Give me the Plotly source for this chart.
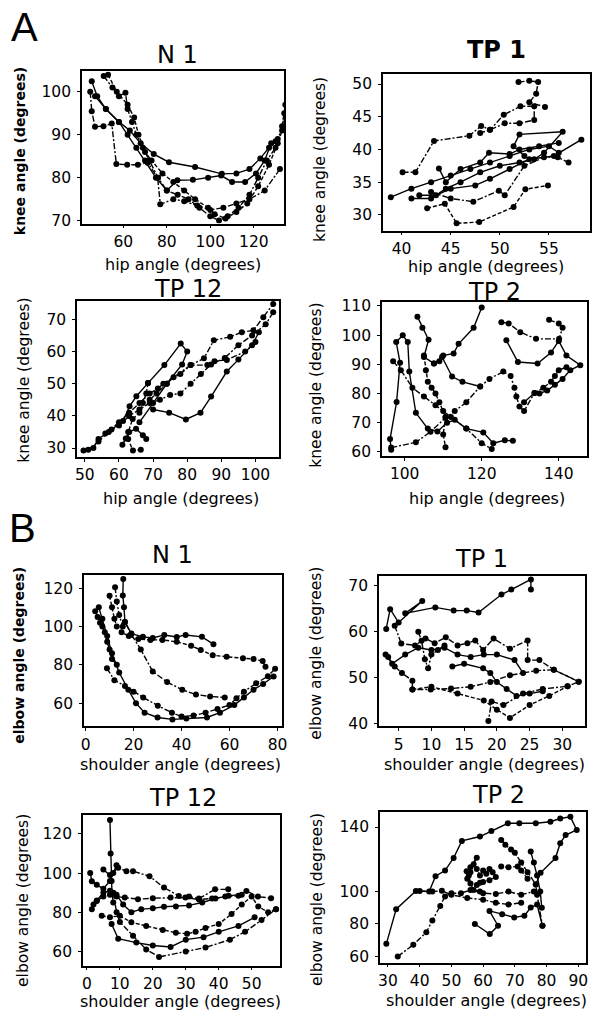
import plotly.graph_objects as go

W, H = 610, 1020
FONT = "DejaVu Sans"

# ---- data: each panel is a list of cycles, each cycle a list of (x, y) angles in degrees ----
# panel A: hip angle (x) vs knee angle (y)
A_N1 = [
    [(45.5, 102.5), (48, 99), (52, 96), (58, 93), (63, 91), (68, 88), (74, 85.5), (81, 83.6),
     (93, 82.5), (105.3, 80.9), (112, 81), (118, 82), (123, 84.5), (127, 87), (130, 88.5)],
    [(51, 103.7), (55, 101), (58, 99), (61, 99.8), (62, 96), (64, 93), (66, 90), (69, 87), (72, 84),
     (76, 80), (80, 77), (85, 76), (90, 75), (95, 73), (100, 71), (104, 70), (108, 71), (113, 73),
     (118, 76), (122, 80), (126, 84), (130, 87), (133, 92), (134.5, 97)],
    [(44.8, 100), (45.5, 95.5), (47, 91.9), (50.9, 92), (54.7, 92.6), (56.8, 83.2), (61.8, 83),
     (66.7, 83), (71.2, 83.5), (75.8, 80), (77, 73.8), (83, 75), (88, 74.5), (94, 73.5), (100, 72.5),
     (106, 73), (112, 74), (118, 75), (125, 77), (132, 82)],
    [(47, 99), (52, 96), (58, 93), (62, 90), (66, 87), (70, 84), (75, 80), (80, 77), (84.9, 79.4),
     (92, 79.5), (99, 80), (105, 80.5), (110, 79), (116, 79), (121, 81), (125, 84), (128, 88), (131, 89)],
    [(53, 104), (57, 100), (62, 97), (65, 94), (67, 90), (70, 86), (73, 84), (78, 81), (83, 79),
     (88, 77), (93, 75), (99, 73), (102, 71.5), (107, 70.5), (112, 72), (117, 74), (122, 78),
     (127, 83), (131, 88), (133, 91), (134, 95)],
]
A_TP1 = [
    [(38.9, 32.7), (41, 34), (43, 35), (45, 36), (47, 37), (49, 38), (51, 39), (53, 40), (55, 40.5), (56, 39.5)],
    [(40.1, 36.5), (41.4, 36.5), (43.3, 41.3), (46.9, 42.1), (48.1, 43.6), (49, 43), (50.4, 45.3),
     (52.1, 46.6), (53.5, 46.6), (53.5, 44.5), (52, 44), (50.5, 44), (49, 43), (48, 42.5)],
    [(51.9, 50.3), (53, 50.5), (53.9, 50.3), (53.7, 48.5), (53, 47.2), (54.6, 46.5)],
    [(41, 32.5), (43, 32.5), (44.5, 34), (46, 35), (48, 36.5), (50, 37.5), (52, 38), (53.5, 38.5),
     (54.5, 39.5), (56.4, 42.7), (52, 42.3), (51.4, 40.5), (52.5, 39)],
    [(42.6, 31), (44.4, 31.7), (45.6, 28.7), (47.9, 28.9), (51.4, 31.2), (52.6, 33.9), (54.9, 34.5)],
    [(41.8, 33), (43.5, 33), (45, 34), (47.5, 34.5), (49, 35.5), (51, 37), (53, 38.5), (55.5, 39), (58.3, 41.5)],
    [(43, 33.5), (45, 32.5), (47.3, 32), (49.9, 33.7), (50.5, 33), (52.5, 37.5), (54.5, 38.8), (55.9, 38.8), (57, 38)],
    [(43.8, 37.1), (44.5, 35), (46, 37), (48, 38), (48.9, 39.5), (51, 39.3), (52, 40), (54, 40.5), (56, 41)],
]
A_TP12 = [
    [(49.6, 29.2), (52.5, 30), (54, 32.8), (57.8, 35.8), (61.2, 38.4), (63.1, 43), (65.1, 46.1),
     (68.5, 50.2), (73.3, 55.8), (78.1, 62.5), (80, 60), (78.5, 56), (74, 50), (70, 44), (66, 38)],
    [(51, 29.5), (54, 32), (57, 35), (60, 37), (63, 40), (66, 42), (69, 44), (72, 45), (75, 46.5),
     (78, 47), (81, 50), (84, 53), (87, 56), (91, 58), (95, 62), (99, 65), (103, 68.5), (105.2, 72.2)],
    [(56, 34.5), (60, 38), (63, 41), (66, 44), (69, 47), (71.4, 48.5), (73, 50), (78, 53), (81, 55.8),
     (84.9, 57.9), (87.8, 63.5), (92.6, 64.6), (96, 66), (99.4, 66.6), (102.3, 70.7), (105.2, 74.8)],
    [(70, 42), (74.7, 41), (79.6, 38.9), (83.9, 41), (87, 46), (91.6, 53.8), (95, 57.5), (99, 62), (101, 66)],
    [(68.5, 50.2), (68, 47), (67, 44), (66, 41), (64, 39), (62.7, 35), (62.7, 32.8), (64.1, 29.2), (66.4, 29.5)],
    [(68, 32.8), (67, 34), (65, 36), (63, 35), (62, 33), (61, 31)],
    [(69, 45), (71, 47), (74, 50), (76, 52), (81, 55.8), (85.9, 55.8), (88, 57), (91.6, 57.4), (97, 60), (100, 63)],
]
A_TP2 = [
    [(96.5, 60.8), (96.2, 64.4), (97.9, 77.1), (98.8, 90.5), (97.8, 97.6), (99.5, 99.9), (100.8, 97.6),
     (101.2, 87.5), (102.9, 73.4), (106, 68), (108.5, 67), (111, 70), (113, 71), (116, 68),
     (120.4, 66.7), (123, 63), (126, 64), (128.1, 63.8)],
    [(97, 91), (99, 88), (102, 82), (105, 79), (108, 76), (110, 74), (112, 72), (116, 68), (120, 63), (122.6, 61)],
    [(96.5, 61.5), (102.9, 63.3), (106.7, 66.9), (110.6, 71.7), (113, 74), (116, 77), (119.6, 82.4),
     (122, 85), (125.6, 87.5), (127.5, 86), (128.5, 82), (129, 79), (129.8, 75.6), (131, 74),
     (133.7, 80.2), (136, 82), (138, 84), (139, 86), (140, 88), (142, 89)],
    [(103.3, 106.3), (104.6, 102.5), (106.2, 98.4), (105, 92.5), (107.6, 90.3), (109, 91), (110, 93),
     (112.7, 93.7), (114, 97), (117.9, 102.5), (120, 109.4)],
    [(105, 93), (105.5, 88), (106, 84), (107, 82), (108, 80), (109, 77), (110.6, 72), (110, 66), (110.6, 61.6)],
    [(107.6, 90.3), (109.7, 92.5), (112.3, 85.8), (115, 84), (119.6, 82.4)],
    [(125.1, 104.4), (127, 104), (130, 101), (134.1, 98.7), (140.1, 98.7), (141, 102.5), (140, 104), (137.5, 105.2)],
    [(126.4, 98.2), (129.4, 90.8), (134.5, 90.3), (138, 94), (140, 98), (142, 93), (145.6, 89.7), (143, 88),
     (141, 85), (139, 83), (137, 81), (135, 80), (133.7, 80.2), (131, 77)],
]

# panel B: shoulder angle (x) vs elbow angle (y)
B_N1 = [
    [(5.5, 110), (7, 104), (9, 95), (11, 86), (14, 76), (17.8, 67), (21, 60), (24.6, 55), (30, 52.5),
     (36.2, 51.5), (42, 52), (50.6, 52.5), (56, 55), (62, 59), (66, 63), (70, 67), (74, 70), (78.4, 73.9)],
    [(8.9, 78.2), (12, 72), (16.4, 69), (20, 66), (24, 63), (30.1, 58.7), (36, 55), (40, 53), (45, 53.5),
     (50, 55), (55, 57), (60, 59), (62.9, 62.6), (66, 66), (71.1, 70.4), (76, 74), (79, 78)],
    [(12.3, 120.5), (13, 113), (14, 106), (15.5, 100), (16.4, 102.4), (19, 96), (23, 88), (28, 76.5),
     (34, 71), (40.3, 67), (46, 64.5), (51.9, 63.5), (58, 63)],
    [(15.7, 124.8), (15.5, 116.2), (16, 110), (16.4, 102.4), (19.1, 96.3), (23.9, 94.6), (28, 94),
     (32.8, 95.6), (38, 94.5), (41.7, 95.6), (48.5, 94.6), (53.3, 90.8)],
    [(10, 116), (11, 110), (12, 104), (13, 100), (15, 97), (18, 95), (22, 93.5), (27, 93), (32, 93),
     (38, 92), (44, 90), (48, 87.7), (53, 85), (58.8, 84.2), (65.6, 83.4), (70, 83), (73.8, 82), (75, 79)],
    [(4, 108), (5, 105), (6, 102), (7, 100), (8, 97), (9, 92), (10, 88), (11, 83), (13, 80)],
]
B_TP1 = [
    [(3.1, 60.6), (3.7, 64.9), (5, 62), (8.6, 66.7), (6, 64), (10.6, 65.3), (13.4, 64.6), (15.4, 64.6),
     (17.2, 64.2), (20.7, 68.1), (22.2, 69.2), (25.2, 71.4), (25.2, 69.2)],
    [(3.4, 54.5), (4.4, 52.4), (5.5, 51), (7.1, 49.3), (7.1, 47.4), (9.9, 47.4), (13, 47.6), (16, 48),
     (19, 49), (22, 50.5), (26, 51.5), (28.7, 51.7), (32.5, 49.1), (30.8, 48.1), (27, 47.5), (24, 46.5),
     (21, 44), (19.2, 44.8), (18.7, 40.5)],
    [(4.4, 61.3), (5.4, 57.4), (7.5, 57), (9.1, 58.5), (10.5, 57.5), (12.2, 58.8), (14, 57), (15.5, 57.5),
     (16.7, 58.1), (17.9, 56), (19.5, 58.5), (22, 56.3), (24.7, 58.1), (24.7, 53.8), (26.5, 53.8),
     (28.7, 51.7), (32.5, 49.1)],
    [(3, 55), (4, 53), (6, 55), (8, 56.5), (10, 56), (12, 56.5), (14, 55), (16, 54.5), (18, 55), (20, 55),
     (22.7, 53.8), (24, 51)],
    [(7.1, 47.4), (10, 48), (14, 46.5), (18, 45), (20, 43), (22, 41.2), (25, 44), (28, 46), (30.8, 48.1)],
    [(13.2, 52.4), (15, 53), (17.9, 52), (19, 51), (20, 49), (21.5, 47.5), (23, 46), (25, 46.5), (27, 47)],
    [(8, 60), (8.5, 58), (9, 54), (9.5, 52), (10, 55), (11, 56), (12, 57)],
]
B_TP12 = [
    [(7, 127.1), (7.2, 110), (7.5, 96), (7.6, 90), (8, 85)],
    [(5, 101.8), (7, 99), (9.5, 102.7), (12, 101), (14, 101), (19, 98.4), (23.4, 92.6), (27.9, 88.3),
     (31, 88), (34, 87), (38.9, 91.7), (42.9, 91.7)],
    [(3, 85.8), (5, 88), (7, 89), (9, 88), (11.5, 87.5), (15.5, 86.7), (20, 87.2), (25.4, 87.5),
     (29.9, 87.5), (34, 86.5), (38, 87), (42, 88), (46, 88.5), (48.4, 90.9), (51.9, 88), (55.9, 87.2)],
    [(1.5, 81.6), (2, 84), (3, 86), (5, 90), (7, 91), (9, 89), (11, 84), (13.5, 80), (16.5, 81.6),
     (20, 82), (23.4, 82.8), (27, 83), (31, 83.5), (35, 85), (39, 87), (43, 88.5), (47, 89)],
    [(4.5, 78.2), (7, 77.5), (10, 78.2), (13.5, 74.9), (18, 73), (23, 71), (27, 69.5), (30.4, 69),
     (33, 70), (36, 72), (40, 74), (43.9, 79.1), (47, 84), (50, 88), (52, 83), (55, 80), (57.4, 81.6)],
    [(7.5, 74), (9.5, 66.5), (15, 64.5), (20, 63), (25.4, 62.3), (30, 66), (35.4, 67.3), (40, 70),
     (46, 73), (50.9, 77.4)],
    [(8, 90), (9, 80), (10, 75), (14, 68), (18, 61), (21.9, 57.2), (30, 60), (36, 62), (43.4, 66),
     (48, 70), (53, 76), (57.4, 81.6)],
    [(1, 100.1), (1.5, 95.9), (3, 94), (5, 92), (7, 96), (8, 100), (9, 104)],
]
B_TP2 = [
    [(29.5, 67.6), (32.6, 89.1), (38.8, 100.3), (43, 100), (45, 109.5), (48, 113), (50.7, 120.8),
     (53.3, 131.4), (59, 134.1), (62.6, 137.5), (67.8, 142.3), (71.4, 142.3), (76.6, 142.3),
     (81.2, 143.3), (84.3, 145.3), (87.5, 146.3), (89.5, 138.2), (86, 135), (84.3, 130),
     (82.8, 120.8), (78.1, 111.6), (76.6, 104.4)],
    [(33.1, 59.8), (38, 67), (42.1, 74.8), (44, 82), (46.5, 91.1), (48, 97), (50, 99), (53, 99),
     (56, 101), (60, 99), (64, 98.5), (68, 100), (72, 98), (76, 100)],
    [(40, 100.3), (44, 100), (47, 100.5), (50, 98), (55, 96), (60, 95), (64, 93), (68, 92), (72, 93)],
    [(57.4, 79.9), (62.1, 73.7), (64.7, 78.8), (62, 88), (66, 86), (69.8, 84), (73, 85), (75, 90.1),
     (77, 92), (78.7, 78.8)],
    [(55, 108), (56, 112), (58, 114), (59, 110), (60, 113), (61, 111), (62, 114), (63, 112), (64, 109),
     (62, 107), (60, 106), (58, 104), (59, 105.5)],
    [(54.8, 112.6), (57, 117), (58, 121), (56, 115), (55.5, 110), (56, 105), (57, 101), (59, 100)],
    [(65.7, 132), (67, 129), (68.8, 126), (70, 124), (72, 118), (74, 112), (76.6, 104.4), (77, 98), (78.7, 78.8)],
    [(75, 124.9), (76, 118), (77, 110), (78, 100), (78.5, 90)],
    [(65.7, 115.6), (68, 115), (70.9, 115.6), (72, 113), (74, 108)],
]

# line style cycle for the successive cycles inside a panel
DASHES = ["solid", "6px,2px,2px,2px", "6px,2px,2px,2px", "solid", "4px,2px", "solid", "6px,2px,2px,2px", "solid", "2px,2px"]

# panel layout: data, box (left, top, right, bottom) in px, ranges, ticks, labels
PANELS = [
    dict(data=A_N1, box=(80, 68, 285, 222), xr=[41, 134], yr=[69.3, 104.8],
         xt=[60, 80, 100, 120], yt=[70, 80, 90, 100], title="N 1", tpos=(177, 52),
         xl="hip angle (degrees)", xlpos=(182, 263), yl="knee angle (degrees)", ylpos=(18, 149), bold=True, tbold=False),
    dict(data=A_TP1, box=(385, 71, 595, 229), xr=[38.1, 59.2], yr=[27.6, 51.5],
         xt=[40, 45, 50, 55], yt=[30, 35, 40, 45, 50], title="TP 1", tpos=(500, 46),
         xl="hip angle (degrees)", xlpos=(489, 265), yl="knee angle (degrees)", ylpos=(322, 157), bold=False, tbold=True),
    dict(data=A_TP12, box=(75, 300, 280, 458), xr=[47.7, 107], yr=[27.2, 75.8],
         xt=[50, 60, 70, 80, 90, 100], yt=[30, 40, 50, 60, 70], title="TP 12", tpos=(187, 288),
         xl="hip angle (degrees)", xlpos=(180, 500), yl="knee angle (degrees)", ylpos=(21, 380), bold=False, tbold=False),
    dict(data=A_TP2, box=(384, 301, 592, 457), xr=[94.1, 147.4], yr=[58.6, 111.4],
         xt=[100, 120, 140], yt=[60, 70, 80, 90, 100, 110], title="TP 2", tpos=(498, 291),
         xl="hip angle (degrees)", xlpos=(490, 500), yl="knee angle (degrees)", ylpos=(317, 385), bold=False, tbold=False),
    dict(data=B_N1, box=(82, 577, 283, 730), xr=[-0.7, 82], yr=[48, 127],
         xt=[0, 20, 40, 60, 80], yt=[60, 80, 100, 120], title="N 1", tpos=(172, 557),
         xl="shoulder angle (degrees)", xlpos=(180, 769), yl="elbow angle (degrees)", ylpos=(16, 658), bold=True, tbold=False),
    dict(data=B_TP1, box=(381, 578, 590, 730), xr=[2, 33.5], yr=[39.4, 72.2],
         xt=[5, 10, 15, 20, 25, 30], yt=[40, 50, 60, 70], title="TP 1", tpos=(485, 561),
         xl="shoulder angle (degrees)", xlpos=(488, 769), yl="elbow angle (degrees)", ylpos=(317, 656), bold=False, tbold=False),
    dict(data=B_TP12, box=(81, 820, 281, 972), xr=[-1.2, 58.7], yr=[52.8, 129.6],
         xt=[0, 10, 20, 30, 40, 50], yt=[60, 80, 100, 120], title="TP 12", tpos=(182, 803),
         xl="shoulder angle (degrees)", xlpos=(180, 1008), yl="elbow angle (degrees)", ylpos=(20, 906), bold=False, tbold=False),
    dict(data=B_TP2, box=(382, 817, 591, 969), xr=[27.5, 92.5], yr=[56, 149.2],
         xt=[30, 40, 50, 60, 70, 80, 90], yt=[60, 80, 100, 140], title="TP 2", tpos=(502, 800),
         xl="shoulder angle (degrees)", xlpos=(490, 1007), yl="elbow angle (degrees)", ylpos=(318, 905), bold=False, tbold=False),
]


def px_x(v):
    return v / W


def px_y(v):
    return 1 - v / H


fig = go.Figure()
annotations = []
layout = {}

for i, p in enumerate(PANELS, start=1):
    xa = "x" if i == 1 else f"x{i}"
    ya = "y" if i == 1 else f"y{i}"
    for k, cyc in enumerate(p["data"]):
        fig.add_trace(go.Scatter(
            x=[pt[0] for pt in cyc], y=[pt[1] for pt in cyc],
            mode="lines+markers", xaxis=xa, yaxis=ya, showlegend=False,
            line=dict(color="black", width=1.4, dash=DASHES[k % len(DASHES)]),
            marker=dict(color="black", size=6),
        ))
    l, t, r, b = p["box"]
    axis_common = dict(
        showline=True, mirror=True, linecolor="black", linewidth=1.6,
        showgrid=False, zeroline=False, ticks="outside", ticklen=3, tickcolor="black",
        tickfont=dict(family=FONT, size=15.5, color="black"),
    )
    layout[f"xaxis{'' if i == 1 else i}"] = dict(
        domain=[px_x(l), px_x(r)], anchor=ya, range=p["xr"], tickvals=p["xt"],
        ticklabelstandoff=0, **axis_common)
    layout[f"yaxis{'' if i == 1 else i}"] = dict(
        domain=[px_y(b), px_y(t)], anchor=xa, range=p["yr"], tickvals=p["yt"],
        ticklabelstandoff=3, **axis_common)

    tx, ty = p["tpos"]
    ttxt = f"<b>{p['title']}</b>" if p["tbold"] else p["title"]
    annotations.append(dict(text=ttxt, x=px_x(tx), y=px_y(ty), xref="paper", yref="paper",
                            showarrow=False, xanchor="center", yanchor="middle",
                            font=dict(family=FONT, size=24, color="black")))
    lx, ly = p["xlpos"]
    annotations.append(dict(text=p["xl"], x=px_x(lx), y=px_y(ly), xref="paper", yref="paper",
                            showarrow=False, xanchor="center", yanchor="middle",
                            font=dict(family=FONT, size=16, color="black")))
    yx, yy = p["ylpos"]
    ytxt = f"<b>{p['yl']}</b>" if p["bold"] else p["yl"]
    annotations.append(dict(text=ytxt, x=px_x(yx), y=px_y(yy), xref="paper", yref="paper",
                            showarrow=False, xanchor="center", yanchor="middle", textangle=-90,
                            font=dict(family=FONT, size=14 if p["bold"] else 15.5, color="black")))

# section letters
for letter, (lx, ly) in [("A", (22, 23)), ("B", (20, 530))]:
    annotations.append(dict(text=letter, x=px_x(lx), y=px_y(ly), xref="paper", yref="paper",
                            showarrow=False, xanchor="center", yanchor="middle",
                            font=dict(family="Liberation Sans", size=40, color="black")))

fig.update_layout(
    width=W, height=H, margin=dict(l=0, r=0, t=0, b=0),
    paper_bgcolor="white", plot_bgcolor="white",
    annotations=annotations, **layout,
)

# page body margin would push the 610x1020 figure off the window
fig.write_html("out.html", config={"displayModeBar": False},
               post_script="document.body.style.margin='0';")
